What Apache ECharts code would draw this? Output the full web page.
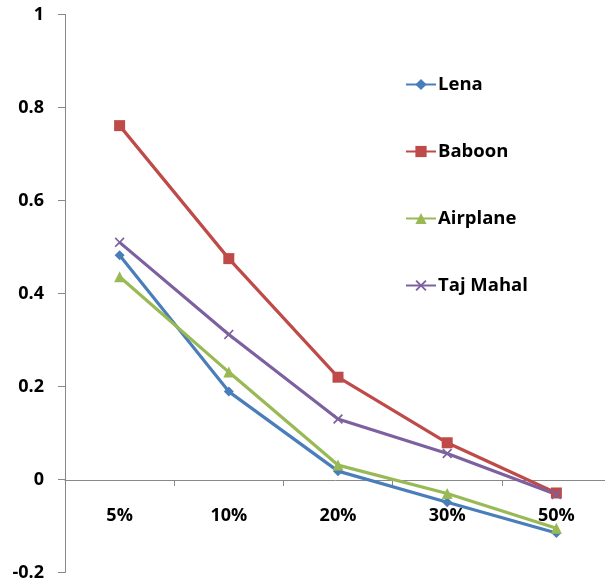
<!DOCTYPE html>
<html>
<head>
<meta charset="utf-8">
<script src="https://cdn.jsdelivr.net/npm/echarts@6/dist/echarts.min.js"></script>
<style>html,body{margin:0;padding:0;background:#fff;}#c{width:605px;height:585px;}</style>
</head>
<body>
<div id="c"></div>
<script>
var categories = ['5%', '10%', '20%', '30%', '50%'];
var lena = [0.482, 0.189, 0.018, -0.049, -0.115];
var baboon = [0.761, 0.475, 0.220, 0.079, -0.029];
var airplane = [0.436, 0.231, 0.031, -0.030, -0.105];
var tajMahal = [0.510, 0.312, 0.130, 0.056, -0.032];
var seriesNames = ['Lena', 'Baboon', 'Airplane', 'Taj Mahal'];

var xPath = 'path://M0,1.2L1.2,0L5,3.8L8.8,0L10,1.2L6.2,5L10,8.8L8.8,10L5,6.2L1.2,10L0,8.8L3.8,5Z';
var font = '"Open Sans", Lato, sans-serif';

var chart = echarts.init(document.getElementById('c'));
function mk(name, data, color, symbol, size) {
  return {
    name: name, type: 'line', data: data,
    symbol: symbol, symbolSize: size, showSymbol: true,
    lineStyle: { color: color, width: 3.2 },
    itemStyle: { color: color, borderColor: color, borderWidth: 0 },
    emphasis: { disabled: true },
    animation: false
  };
}
chart.setOption({
  animation: false,
  grid: { left: 65, right: -6, top: 14.5, bottom: 12.5, containLabel: false, outerBoundsMode: 'none' },
  legend: {
    orient: 'vertical', left: 405, top: 75, padding: 0,
    itemWidth: 30, itemHeight: 14, itemGap: 48,
    textStyle: { fontFamily: font, fontWeight: 'bold', fontSize: 18.5, color: '#000', padding: [0, 0, 0, -3] },
    data: seriesNames
  },
  xAxis: {
    type: 'category', data: categories, boundaryGap: true,
    offset: -92.5,
    axisLine: { onZero: false, lineStyle: { color: '#888', width: 1 } },
    axisTick: { show: true, length: 6, lineStyle: { color: '#888' } },
    axisLabel: { margin: 27, fontFamily: font, fontWeight: 'bold', fontSize: 18, color: '#000' },
    splitLine: { show: false }
  },
  yAxis: {
    type: 'value', min: -0.2, max: 1, interval: 0.2,
    axisLine: { show: true, lineStyle: { color: '#888', width: 1 } },
    axisTick: { show: true, length: 7, lineStyle: { color: '#888' } },
    axisLabel: { margin: 21, fontFamily: font, fontWeight: 'bold', fontSize: 18, color: '#000' },
    splitLine: { show: false }
  },
  series: [
    mk(seriesNames[0], lena, '#4A7EBB', 'diamond', 10),
    mk(seriesNames[1], baboon, '#BE4B48', 'rect', 11),
    mk(seriesNames[2], airplane, '#98B954', 'triangle', 11),
    mk(seriesNames[3], tajMahal, '#7D60A0', xPath, 10)
  ]
});
</script>
</body>
</html>
